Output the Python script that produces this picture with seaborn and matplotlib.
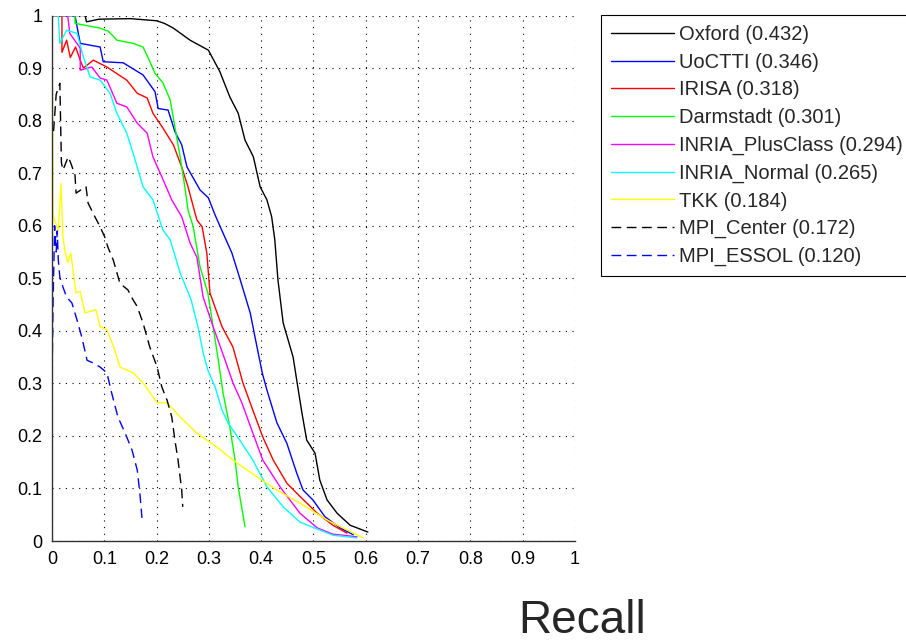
import numpy as np
import pandas as pd
import matplotlib
matplotlib.use("Agg")
import matplotlib.pyplot as plt
import seaborn as sns
from matplotlib.lines import Line2D

# ---------------- data ----------------
methods = ["Oxford (0.432)", "UoCTTI (0.346)", "IRISA (0.318)", "Darmstadt (0.301)",
           "INRIA_PlusClass (0.294)", "INRIA_Normal (0.265)", "TKK (0.184)",
           "MPI_Center (0.172)", "MPI_ESSOL (0.120)"]

oxford_r = [0.0, 0.063, 0.066, 0.09, 0.15, 0.2, 0.215, 0.232, 0.264, 0.299, 0.321, 0.34, 0.356,
            0.369, 0.385, 0.398, 0.411, 0.42, 0.426, 0.432, 0.442, 0.461, 0.47, 0.478, 0.487,
            0.503, 0.512, 0.526, 0.545, 0.57, 0.604]
oxford_p = [1.0, 1.0, 0.988, 0.993, 0.994, 0.99, 0.985, 0.976, 0.953, 0.934, 0.893, 0.845, 0.814,
            0.763, 0.731, 0.674, 0.649, 0.617, 0.573, 0.497, 0.415, 0.35, 0.293, 0.243, 0.192,
            0.167, 0.116, 0.078, 0.053, 0.03, 0.017]

uoctti_r = [0.0, 0.044, 0.048, 0.054, 0.092, 0.098, 0.136, 0.174, 0.197, 0.203, 0.222, 0.235,
            0.248, 0.258, 0.283, 0.299, 0.312, 0.327, 0.344, 0.359, 0.379, 0.392, 0.402, 0.411,
            0.43, 0.449, 0.468, 0.48, 0.499, 0.522, 0.551, 0.576]
uoctti_p = [1.0, 1.0, 0.978, 0.947, 0.94, 0.912, 0.91, 0.887, 0.855, 0.823, 0.82, 0.779,
            0.754, 0.712, 0.668, 0.653, 0.62, 0.586, 0.548, 0.5, 0.434, 0.369, 0.32, 0.287,
            0.225, 0.186, 0.129, 0.097, 0.078, 0.046, 0.025, 0.012]

irisa_r = [0.0, 0.019, 0.019, 0.028, 0.035, 0.045, 0.054, 0.06, 0.079, 0.105, 0.12, 0.143,
           0.163, 0.182, 0.193, 0.212, 0.232, 0.248, 0.26, 0.277, 0.287, 0.296, 0.302, 0.325,
           0.346, 0.365, 0.384, 0.403, 0.423, 0.449, 0.474, 0.507, 0.537, 0.564]
irisa_p = [1.0, 1.0, 0.93, 0.953, 0.92, 0.94, 0.915, 0.9, 0.915, 0.902, 0.892, 0.877,
           0.852, 0.843, 0.814, 0.786, 0.754, 0.712, 0.674, 0.611, 0.598, 0.548, 0.472, 0.408,
           0.369, 0.301, 0.249, 0.198, 0.154, 0.11, 0.085, 0.053, 0.03, 0.015]

darm_r = [0.0, 0.044, 0.044, 0.092, 0.108, 0.124, 0.155, 0.174, 0.184, 0.197, 0.212, 0.226,
          0.235, 0.245, 0.254, 0.26, 0.27, 0.283, 0.298, 0.308, 0.318, 0.327, 0.34, 0.35,
          0.356, 0.369]
darm_p = [1.0, 1.0, 0.985, 0.976, 0.97, 0.953, 0.947, 0.94, 0.919, 0.89, 0.872, 0.839,
          0.788, 0.731, 0.674, 0.63, 0.598, 0.522, 0.472, 0.408, 0.344, 0.282, 0.217, 0.154,
          0.103, 0.027]

plus_r = [0.0, 0.03, 0.034, 0.054, 0.054, 0.076, 0.092, 0.105, 0.124, 0.143, 0.163, 0.182,
          0.193, 0.21, 0.229, 0.248, 0.264, 0.277, 0.289, 0.308, 0.331, 0.346, 0.363, 0.382,
          0.403, 0.436, 0.474, 0.507, 0.537, 0.583]
plus_p = [1.0, 1.0, 0.966, 0.938, 0.896, 0.902, 0.881, 0.877, 0.833, 0.826, 0.795, 0.776,
          0.731, 0.693, 0.649, 0.617, 0.567, 0.54, 0.464, 0.408, 0.344, 0.301, 0.263, 0.211,
          0.154, 0.103, 0.053, 0.025, 0.013, 0.008]

normal_r = [0.0, 0.012, 0.015, 0.028, 0.048, 0.06, 0.073, 0.092, 0.111, 0.124, 0.143, 0.155,
            0.174, 0.193, 0.212, 0.226, 0.245, 0.266, 0.279, 0.289, 0.298, 0.312, 0.325, 0.337,
            0.359, 0.384, 0.411, 0.442, 0.474, 0.537, 0.583]
normal_p = [1.0, 1.0, 0.947, 0.972, 0.966, 0.921, 0.883, 0.877, 0.852, 0.814, 0.776, 0.738,
            0.674, 0.649, 0.592, 0.573, 0.51, 0.459, 0.408, 0.358, 0.325, 0.293, 0.249, 0.224,
            0.192, 0.154, 0.103, 0.065, 0.036, 0.011, 0.006]

tkk_r = [0.0, 0.002, 0.012, 0.017, 0.021, 0.025, 0.03, 0.036, 0.046, 0.054, 0.063, 0.084,
         0.092, 0.105, 0.12, 0.13, 0.155, 0.174, 0.201, 0.22, 0.245, 0.277, 0.315, 0.346,
         0.392, 0.43, 0.474, 0.526, 0.564, 0.595]
tkk_p = [1.0, 0.62, 0.59, 0.68, 0.578, 0.55, 0.53, 0.548, 0.472, 0.475, 0.434, 0.44,
         0.408, 0.402, 0.363, 0.331, 0.32, 0.301, 0.263, 0.263, 0.236, 0.205, 0.179, 0.154,
         0.122, 0.097, 0.072, 0.04, 0.021, 0.006]

center_r = [0.003, 0.008, 0.015, 0.018, 0.021, 0.031, 0.036, 0.044, 0.046, 0.055, 0.065, 0.069,
            0.082, 0.092, 0.101, 0.107, 0.117, 0.13, 0.145, 0.155, 0.163, 0.174, 0.187, 0.201,
            0.21, 0.22, 0.229, 0.235, 0.241, 0.248, 0.25]
center_p = [0.78, 0.85, 0.871, 0.72, 0.706, 0.731, 0.719, 0.696, 0.662, 0.668, 0.674, 0.643,
            0.617, 0.598, 0.578, 0.559, 0.535, 0.49, 0.478, 0.459, 0.446, 0.415, 0.369, 0.331,
            0.293, 0.268, 0.236, 0.192, 0.154, 0.097, 0.065]

essol_r = [0.0, 0.002, 0.005, 0.008, 0.01, 0.012, 0.015, 0.021, 0.028, 0.038, 0.048, 0.057,
           0.067, 0.078, 0.092, 0.105, 0.114, 0.126, 0.14, 0.153, 0.163, 0.168, 0.172]
essol_p = [0.3, 0.45, 0.6, 0.55, 0.59, 0.535, 0.502, 0.483, 0.464, 0.453, 0.42, 0.388,
           0.344, 0.339, 0.331, 0.32, 0.282, 0.236, 0.205, 0.173, 0.135, 0.091, 0.044]

recalls = [oxford_r, uoctti_r, irisa_r, darm_r, plus_r, normal_r, tkk_r, center_r, essol_r]
precisions = [oxford_p, uoctti_p, irisa_p, darm_p, plus_p, normal_p, tkk_p, center_p, essol_p]

colors = ["#000000", "#0000ff", "#ff0000", "#00ff00", "#ff00ff", "#00ffff", "#ffff00",
          "#000000", "#0000ff"]
styles = ["-", "-", "-", "-", "-", "-", "-", (0, (7, 4)), (0, (7, 4))]

tick_vals = [0, 0.1, 0.2, 0.3, 0.4, 0.5, 0.6, 0.7, 0.8, 0.9, 1]
tick_labels = ["0", "0.1", "0.2", "0.3", "0.4", "0.5", "0.6", "0.7", "0.8", "0.9", "1"]

# ---------------- plotting ----------------
sns.set_style("white")
plt.rcParams["font.family"] = ["Liberation Sans", "DejaVu Sans"]

W, H = 906, 642
fig = plt.figure(figsize=(W / 100, H / 100), dpi=100)
ax = fig.add_axes([52 / W, 1 - 541 / H, 523 / W, (541 - 15.5) / H])

for m, r, p, c, ls in zip(methods, recalls, precisions, colors, styles):
    df = pd.DataFrame({"recall": r, "precision": p})
    sns.lineplot(data=df, x="recall", y="precision", sort=False, estimator=None,
                 color=c, linewidth=1.0, linestyle=ls, ax=ax, legend=False)

ax.set_xlim(0, 1)
ax.set_ylim(0, 1)
ax.set_xticks(tick_vals)
ax.set_xticklabels(tick_labels)
ax.set_yticks(tick_vals)
ax.set_yticklabels(tick_labels)
ax.set_xlabel("")
ax.set_ylabel("")
ax.grid(True, color="black", linewidth=0.8, linestyle=(0, (1, 5)))
ax.set_axisbelow(True)
for s in ["top", "right"]:
    ax.spines[s].set_visible(False)
for s in ["left", "bottom"]:
    ax.spines[s].set_color("#333333")
    ax.spines[s].set_linewidth(1.0)
ax.tick_params(direction="in", length=4, width=0.8, labelsize=13, pad=7, colors="black")

handles = [Line2D([0], [0], color=c, lw=1.0, linestyle=ls) for c, ls in zip(colors, styles)]
leg = fig.legend(handles, methods, loc="upper left", bbox_to_anchor=(601 / W, 1 - 15 / H),
                 fontsize=14.5, frameon=True, fancybox=False, framealpha=1, edgecolor="black",
                 handlelength=3.1, handletextpad=0.28, labelspacing=0.43, borderpad=0.5,
                 borderaxespad=0)
leg.get_frame().set_linewidth(0.8)

fig.text(582 / W, 1 - 633 / H, "Recall", fontsize=33, ha="center", va="baseline")
fig.text(-2.5 / W, 1 - 161.5 / H, "Precision", fontsize=34, rotation=90,
         rotation_mode="anchor", ha="center", va="baseline")

fig.savefig("out.png", dpi=100)
